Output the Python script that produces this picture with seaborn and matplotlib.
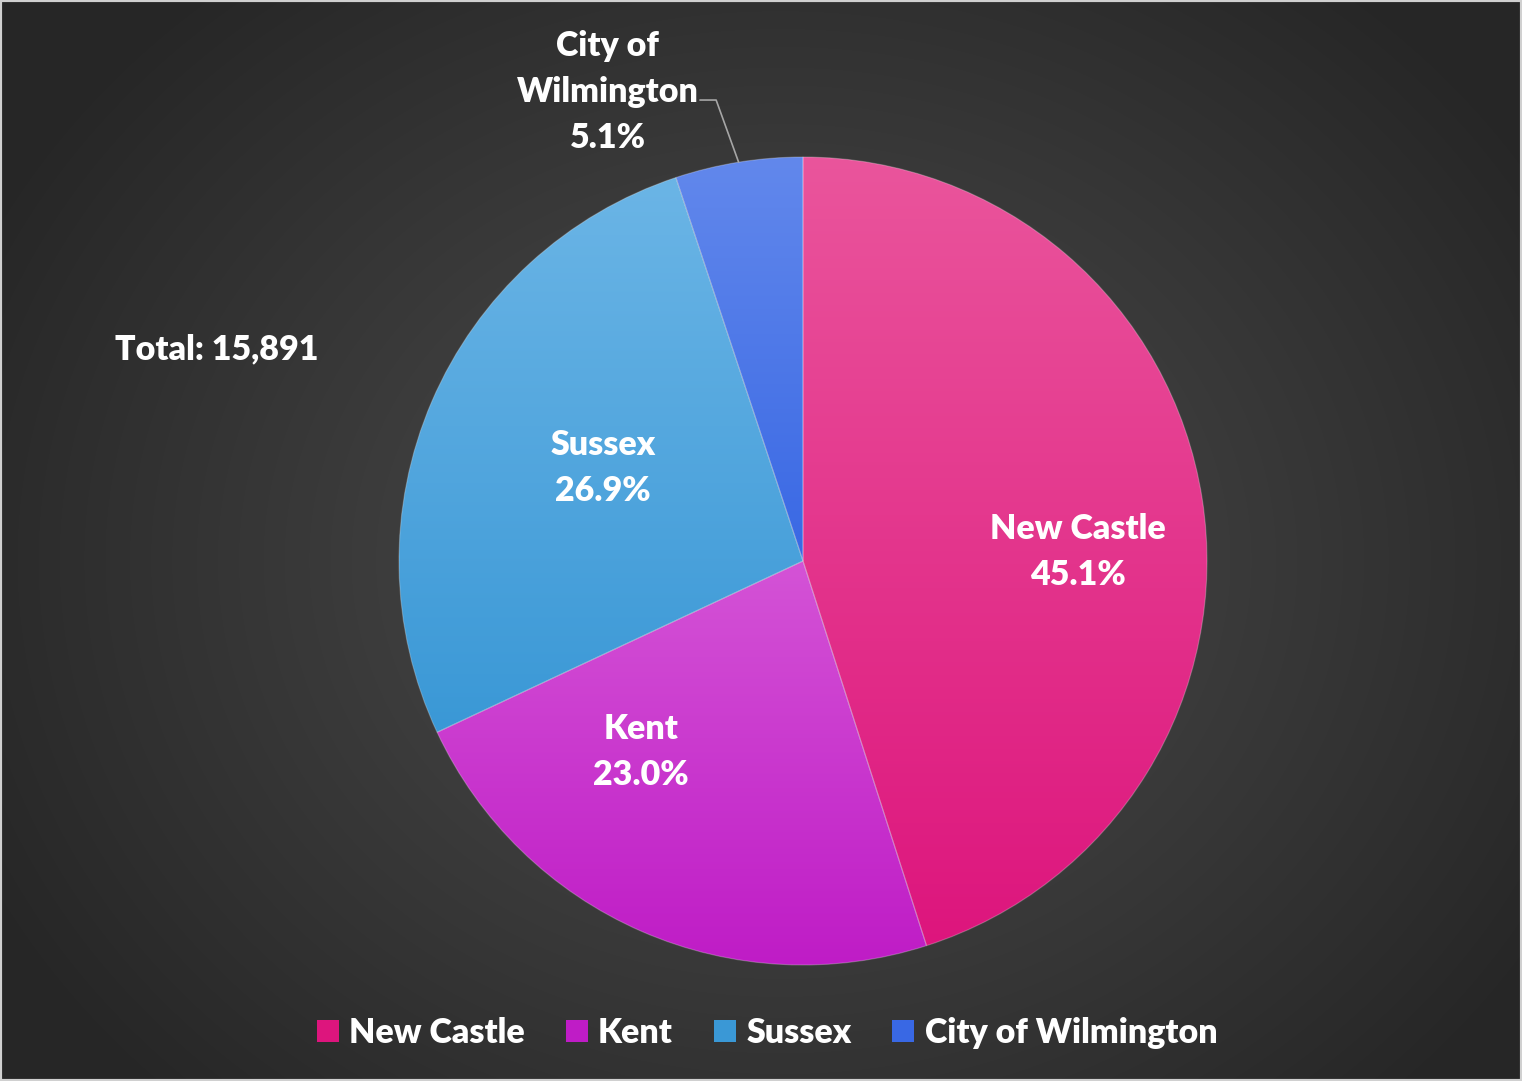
import numpy as np
import matplotlib
matplotlib.use("Agg")
import matplotlib.pyplot as plt
import matplotlib.colors as mcolors
from matplotlib.patches import Patch, Rectangle
import seaborn as sns

# data
counties = ["New Castle", "Kent", "Sussex", "City of Wilmington"]
shares = [45.1, 23.0, 26.9, 5.1]
total = 15891
top_colors = ["#ea559c", "#d453d6", "#6bb5e6", "#6288ec"]
bottom_colors = ["#dd157d", "#bf1cc6", "#3a98d6", "#3968e4"]
# label centres in pie units (radius = 1)
label_pos = [(0.681, 0.022), (-0.401, -0.472), (-0.495, 0.231), (-0.483, 1.161)]

sns.set_theme(style="white")
plt.rcParams["font.family"] = ["Lato", "DejaVu Sans"]
FS = 24.5
WEIGHT = "heavy"

W, H = 1522, 1081
fig = plt.figure(figsize=(W / 100, H / 100), dpi=100)

# radial gradient background
bg = fig.add_axes([0, 0, 1, 1])
yy, xx = np.mgrid[0:H, 0:W]
d = np.sqrt(((xx - 780) / 900) ** 2 + ((yy - 560) / 760) ** 2)
d = np.clip(d, 0, 1)
bg_cmap = mcolors.LinearSegmentedColormap.from_list("bg", ["#4e4e4e", "#262626"])
bg.imshow(d, cmap=bg_cmap, aspect="auto", extent=[0, W, H, 0])
bg.set_xlim(0, W)
bg.set_ylim(H, 0)
bg.axis("off")
fig.patches.append(Rectangle((0, 0), 1, 1, transform=fig.transFigure, fill=False,
                             edgecolor="#d0d0d0", linewidth=3, zorder=10))

# pie axes: centre (803, 561) px, radius 404 px
cx, cy, r = 803, 561, 404
ax = fig.add_axes([(cx - r) / W, (H - cy - r) / H, 2 * r / W, 2 * r / H])
wedges, _ = ax.pie(shares, startangle=90, counterclock=False,
                   wedgeprops=dict(facecolor="none", edgecolor="#ffffff40", linewidth=0.8))
ax.set_aspect("auto")
ax.axis("off")

# vertical gradient fill for each slice
for w, c_top, c_bot in zip(wedges, top_colors, bottom_colors):
    w.set_zorder(3)
    ext = w.get_path().get_extents(w.get_patch_transform())
    cmap = mcolors.LinearSegmentedColormap.from_list("g", [c_top, c_bot])
    grad = np.linspace(0, 1, 256).reshape(-1, 1)
    im = ax.imshow(grad, cmap=cmap, aspect="auto", origin="upper",
                   extent=[ext.x0, ext.x1, ext.y0, ext.y1], zorder=2)
    im.set_clip_path(w)
ax.set_xlim(-1, 1)
ax.set_ylim(-1, 1)

# data labels
for name, s, (lx, ly) in zip(counties, shares, label_pos):
    txt = name.replace("City of ", "City of\n") + f"\n{s:.1f}%"
    ax.text(lx, ly, txt, ha="center", va="center", color="white", fontsize=FS,
            fontweight=WEIGHT, linespacing=1.53, zorder=5, clip_on=False)

# leader line for the small slice
w = wedges[3]
mid = np.deg2rad((w.theta1 + w.theta2) / 2)
ex, ey = np.cos(mid), np.sin(mid)
ax.plot([-0.255, -0.215, ex], [1.141, 1.141, ey], color="#a6a6a6", lw=1.2,
        clip_on=False, zorder=4)

fig.text(217 / W, 1 - 349 / H, f"Total: {total:,}", ha="center", va="center",
         color="white", fontsize=FS, fontweight=WEIGHT)

handles = [Patch(facecolor=c, edgecolor="none") for c in bottom_colors]
fig.legend(handles, counties, loc="center", bbox_to_anchor=(767 / W, 1 - 1033 / H),
           ncol=4, frameon=False, labelcolor="white",
           prop=dict(family=["Lato", "DejaVu Sans"], weight=WEIGHT, size=FS),
           handlelength=0.65, handleheight=0.65, handletextpad=0.3, columnspacing=1.2)

fig.savefig("out.png", dpi=100)
